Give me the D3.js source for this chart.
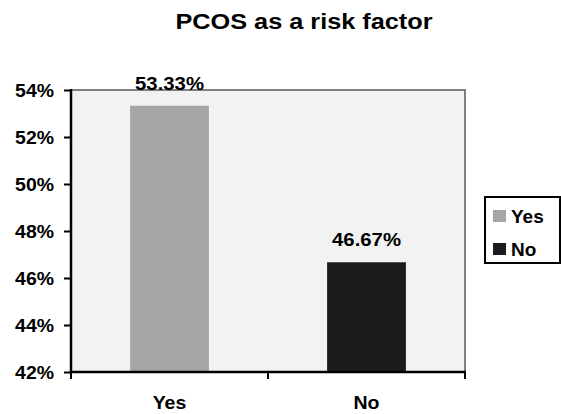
<!DOCTYPE html>
<html>
<head>
<meta charset="utf-8">
<script src="https://cdn.jsdelivr.net/npm/d3@7"></script>
<style>
  html, body { margin: 0; padding: 0; background: #fff; }
  svg text { font-family: "Liberation Sans", Arial, sans-serif; font-weight: bold; fill: #000; }
</style>
</head>
<body>
<svg id="chart" width="561" height="414"></svg>
<script>
// Survey answers: is PCOS a risk factor?
const categories = ["Yes", "No"];
const values = [53.33, 46.67];
const colors = ["#a6a6a6", "#1c1c1c"];
const yTicks = [42, 44, 46, 48, 50, 52, 54];
const title = "PCOS as a risk factor";

const svg = d3.select("#chart");
const plot = { left: 71, right: 465, top: 90, bottom: 372 };

const x = d3.scaleBand()
  .domain(categories)
  .range([plot.left, plot.right])
  .paddingInner(0.6)
  .paddingOuter(0.3);

const y = d3.scaleLinear()
  .domain([42, 54])
  .range([plot.bottom, plot.top]);

// text placed at (tx, ty), slightly widened horizontally
function label(parent, tx, ty, str, size, sx, anchor) {
  return parent.append("text")
    .attr("transform", `translate(${tx},${ty}) scale(${sx},1)`)
    .attr("text-anchor", anchor || "middle")
    .attr("font-size", size)
    .text(str);
}

// plot area background with grey top/right frame
svg.append("rect")
  .attr("x", plot.left).attr("y", plot.top)
  .attr("width", plot.right - plot.left)
  .attr("height", plot.bottom - plot.top)
  .attr("fill", "#f2f2f2");
svg.append("path")
  .attr("d", `M${plot.left},${plot.top}H${plot.right}V${plot.bottom}`)
  .attr("fill", "none")
  .attr("stroke", "#808080")
  .attr("stroke-width", 2);

// bars
svg.selectAll("rect.bar")
  .data(categories)
  .join("rect")
  .attr("class", "bar")
  .attr("x", d => x(d))
  .attr("width", x.bandwidth())
  .attr("y", (d, i) => y(values[i]))
  .attr("height", (d, i) => y(42) - y(values[i]))
  .attr("fill", (d, i) => colors[i]);

// value labels
categories.forEach((c, i) => {
  label(svg, x(c) + x.bandwidth() / 2, y(values[i]) - 16,
        values[i].toFixed(2) + "%", 19, 1.07);
});

// y axis
const yAxis = d3.axisLeft(y)
  .tickValues(yTicks)
  .tickFormat(d => d + "%")
  .tickSize(7)
  .tickPadding(10);
const gy = svg.append("g")
  .attr("transform", `translate(${plot.left},0)`)
  .call(yAxis);
gy.select(".domain").remove();
gy.append("line")
  .attr("x1", 0).attr("x2", 0)
  .attr("y1", plot.top - 1).attr("y2", plot.bottom)
  .attr("stroke", "#000").attr("stroke-width", 2.5);
gy.selectAll(".tick line").attr("stroke", "#000").attr("stroke-width", 2);
gy.selectAll(".tick text")
  .attr("x", null).attr("dy", "0.36em")
  .attr("transform", "translate(-17,0) scale(1.08,1)")
  .attr("font-size", 18)
  .attr("font-family", null)
  .attr("fill", "#000");
gy.attr("font-family", null).attr("font-size", null);

// x axis: category separators below the baseline
const bounds = [plot.left, (plot.left + plot.right) / 2, plot.right];
svg.append("line")
  .attr("x1", plot.left - 1).attr("x2", plot.right + 1)
  .attr("y1", plot.bottom).attr("y2", plot.bottom)
  .attr("stroke", "#000").attr("stroke-width", 2.5);
svg.selectAll("line.sep")
  .data(bounds)
  .join("line")
  .attr("class", "sep")
  .attr("x1", d => d).attr("x2", d => d)
  .attr("y1", plot.bottom).attr("y2", plot.bottom + 7)
  .attr("stroke", "#000").attr("stroke-width", 2);
categories.forEach(c => {
  label(svg, x(c) + x.bandwidth() / 2, 409, c, 19, 1.03);
});

// title
label(svg, 304, 29, title, 22, 1.15);

// legend
const legend = svg.append("g").attr("transform", "translate(485,197)");
legend.append("rect")
  .attr("width", 75).attr("height", 66)
  .attr("fill", "#fff").attr("stroke", "#000").attr("stroke-width", 2);
categories.forEach((c, i) => {
  legend.append("rect")
    .attr("x", 8).attr("y", 13 + i * 33)
    .attr("width", 13).attr("height", 12)
    .attr("fill", colors[i]);
  label(legend, 26, 26 + i * 33, c, 19, 1.0, "start");
});
</script>
</body>
</html>
